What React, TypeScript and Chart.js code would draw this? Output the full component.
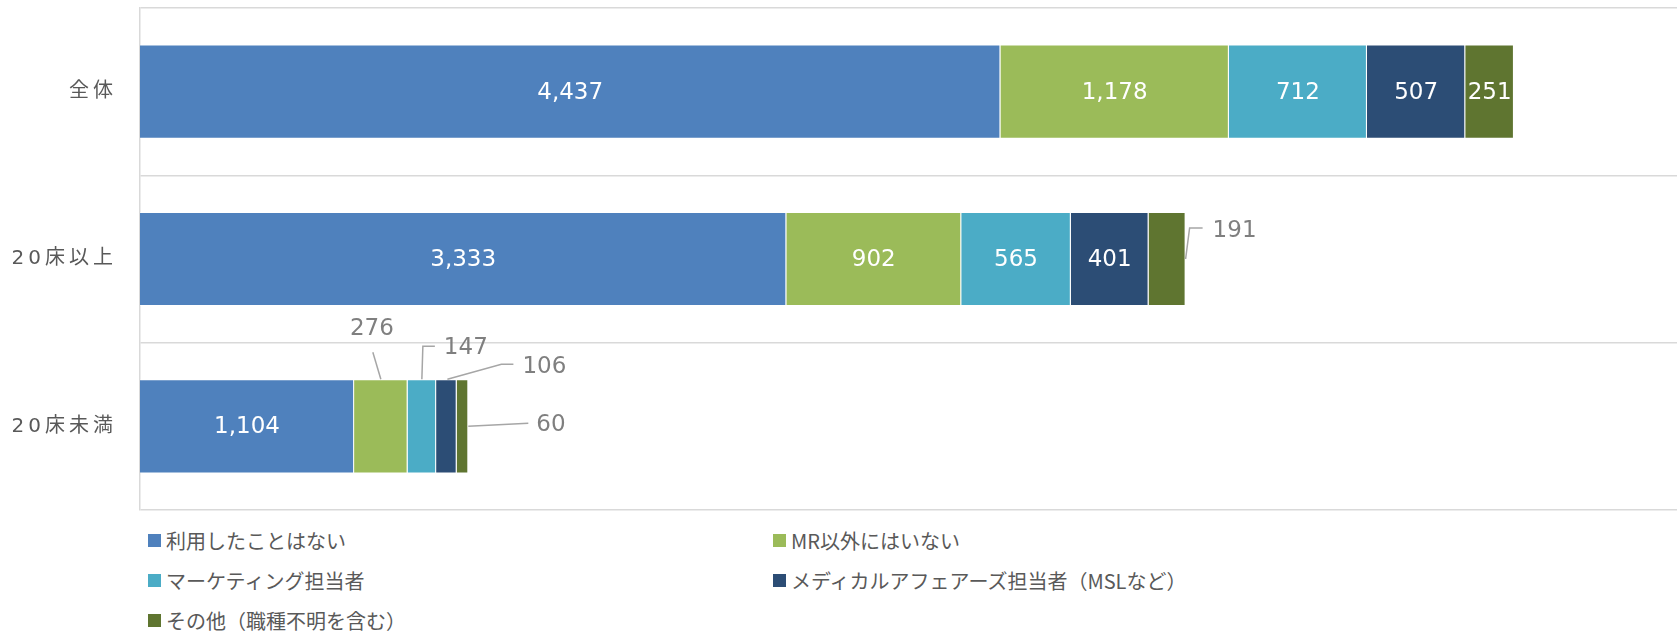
import React, { useEffect, useRef } from 'react';
import { Chart, registerables } from 'chart.js';

Chart.register(...registerables);

// ---- data ----
const categories = ['全体', '20床以上', '20床未満'];
const seriesNames = [
  '利用したことはない',
  'MR以外にはいない',
  'マーケティング担当者',
  'メディカルアフェアーズ担当者（MSLなど）',
  'その他（職種不明を含む）',
];
const neverUsed = [4437, 3333, 1104];
const nonMrNone = [1178, 902, 276];
const marketing = [712, 565, 147];
const medicalAffairs = [507, 401, 106];
const others = [251, 191, 60];
const seriesColors = ['#4F81BD', '#9BBB59', '#4BACC6', '#2C4D75', '#5F7530'];
const axisMax = 7926;

// ---- outside (callout) labels: offsets relative to segment anchor ----
type Callout = {
  ds: number;
  idx: number;
  anchor: 'right' | 'top';
  line: number[][];
  text: number[];
  align: CanvasTextAlign;
};
const callouts: Callout[] = [
  { ds: 4, idx: 1, anchor: 'right', line: [[0, 0], [4, -31], [17, -31]], text: [27, -28], align: 'left' },
  { ds: 1, idx: 2, anchor: 'top', line: [[0, 0], [-8, -27]], text: [-9, -50], align: 'center' },
  { ds: 2, idx: 2, anchor: 'top', line: [[0, 0], [1, -33], [13, -33]], text: [22, -31], align: 'left' },
  { ds: 3, idx: 2, anchor: 'top', line: [[1, 0], [55, -15], [67, -15]], text: [76, -12], align: 'left' },
  { ds: 4, idx: 2, anchor: 'right', line: [[0, 0], [60, -3]], text: [68, -1], align: 'left' },
];

const NUM_FONT = "'DejaVu Sans', Verdana, sans-serif";
const JP_FONT = "'DejaVu Sans', 'Noto Sans CJK JP', sans-serif";

const labelsPlugin = {
  id: 'valueLabels',
  beforeDraw(chart: any) {
    chart.ctx.letterSpacing = '4px';
  },
  afterDatasetsDraw(chart: any) {
    const ctx = chart.ctx;
    ctx.save();
    ctx.letterSpacing = '0px';
    ctx.font = `23px ${NUM_FONT}`;
    ctx.textBaseline = 'middle';
    chart.data.datasets.forEach((ds: any, di: number) => {
      const meta = chart.getDatasetMeta(di);
      meta.data.forEach((el: any, i: number) => {
        const v = ds.data[i] as number;
        const text = v.toLocaleString('en-US');
        const { x, y, base, height } = el.getProps(['x', 'y', 'base', 'height'], true);
        const co = callouts.find((c) => c.ds === di && c.idx === i);
        if (!co) {
          ctx.fillStyle = '#ffffff';
          ctx.textAlign = 'center';
          ctx.fillText(text, (x + base) / 2, y + 1);
          return;
        }
        const ax = co.anchor === 'right' ? x : (x + base) / 2;
        const ay = co.anchor === 'right' ? y : y - height / 2;
        ctx.strokeStyle = '#a6a6a6';
        ctx.lineWidth = 1.5;
        ctx.beginPath();
        co.line.forEach((p, k) => {
          if (k === 0) ctx.moveTo(ax + p[0], ay + p[1]);
          else ctx.lineTo(ax + p[0], ay + p[1]);
        });
        ctx.stroke();
        ctx.fillStyle = '#7f7f7f';
        ctx.textAlign = co.align;
        ctx.fillText(text, ax + co.text[0], ay + co.text[1]);
      });
    });
    ctx.restore();
  },
  afterDraw(chart: any) {
    chart.ctx.letterSpacing = '0px';
  },
};

export default function App() {
  const canvasRef = useRef<HTMLCanvasElement | null>(null);

  useEffect(() => {
    if (!canvasRef.current) return;
    const series = [neverUsed, nonMrNone, marketing, medicalAffairs, others];
    const chart = new Chart(canvasRef.current, {
      type: 'bar',
      data: {
        labels: categories,
        datasets: series.map((d, i) => ({
          label: seriesNames[i],
          data: d,
          backgroundColor: seriesColors[i],
          borderColor: 'rgba(255,255,255,0.45)',
          borderWidth: 1,
          categoryPercentage: 1,
          barPercentage: 0.563,
        })),
      },
      options: {
        indexAxis: 'y',
        responsive: false,
        animation: false,
        devicePixelRatio: 1,
        layout: { padding: { top: 8, bottom: 2, left: 0, right: 0 } },
        plugins: {
          legend: { display: false },
          tooltip: { enabled: false },
        },
        scales: {
          x: {
            stacked: true,
            min: 0,
            max: axisMax,
            display: false,
          },
          y: {
            stacked: true,
            grid: {
              offset: true,
              color: '#d9d9d9',
              lineWidth: 1.5,
              drawTicks: false,
            },
            border: { display: true, color: '#d9d9d9', width: 1.5 },
            ticks: {
              color: '#595959',
              font: { family: JP_FONT, size: 20 },
              padding: 23,
            },
            afterFit(scale: any) {
              scale.width = 140;
              scale.paddingTop = 0;
              scale.paddingBottom = 0;
            },
          },
        },
      },
      plugins: [labelsPlugin],
    } as any);
    return () => chart.destroy();
  }, []);

  return (
    <div style={{ position: 'relative', width: 1677, height: 633, background: '#ffffff' }}>
      <style>{'body{margin:0;}'}</style>
      <canvas ref={canvasRef} width={1677} height={512} style={{ display: 'block' }} />
      {seriesNames.map((name, i) => {
        const col = i % 2;
        const row = Math.floor(i / 2);
        return (
          <div
            key={name}
            style={{
              position: 'absolute',
              left: 148 + col * 625,
              top: 540 + row * 40 - 20,
              height: 40,
              display: 'flex',
              alignItems: 'center',
              fontFamily: "'Noto Sans CJK JP', sans-serif",
              fontSize: 20,
              color: '#595959',
              whiteSpace: 'nowrap',
            }}
          >
            <span
              style={{
                display: 'inline-block',
                width: 13,
                height: 13,
                background: seriesColors[i],
                marginRight: 5,
              }}
            />
            <span>{name}</span>
          </div>
        );
      })}
    </div>
  );
}
